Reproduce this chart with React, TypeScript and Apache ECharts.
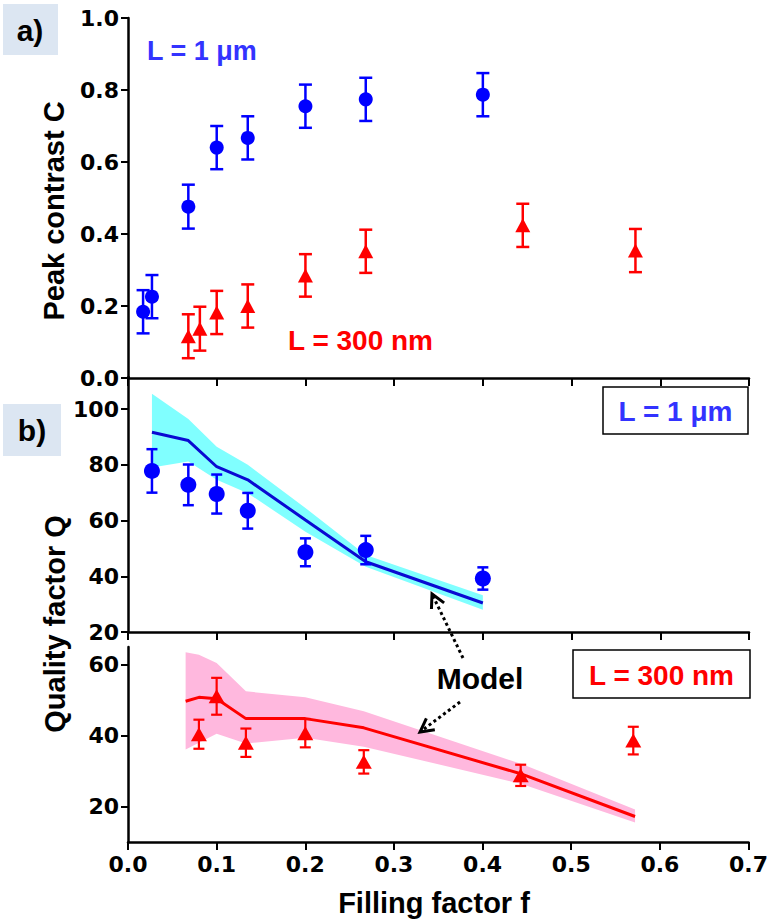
import React, { useEffect, useRef } from 'react';
import * as echarts from 'echarts';

// ---------- Panel a: peak contrast C ----------
const fBlueA = [0.017, 0.027, 0.068, 0.10, 0.135, 0.20, 0.268, 0.40];
const cBlueA = [0.184, 0.226, 0.476, 0.640, 0.667, 0.755, 0.774, 0.787];
const cBlueAErr = [0.06, 0.06, 0.061, 0.06, 0.06, 0.06, 0.06, 0.06];

const fRedA = [0.068, 0.081, 0.10, 0.135, 0.20, 0.268, 0.445, 0.572];
const cRedA = [0.116, 0.137, 0.182, 0.20, 0.285, 0.352, 0.424, 0.354];
const cRedAErr = [0.061, 0.061, 0.06, 0.06, 0.059, 0.06, 0.06, 0.06];

// ---------- Panel b (upper): Q, L = 1 um ----------
const fBlueQ = [0.027, 0.068, 0.10, 0.135, 0.20, 0.268, 0.40];
const qBlue = [77.8, 72.8, 69.5, 63.5, 48.6, 49.4, 39.2];
const qBlueErr = [7.8, 7.3, 7.0, 6.4, 5.0, 5.1, 4.0];

const fModelBlue = [0.027, 0.068, 0.10, 0.135, 0.20, 0.268, 0.40];
const qModelBlue = [91.7, 88.7, 79.3, 74.6, 60.2, 45.2, 30.4];
const qModelBlueHi = [105.5, 96.4, 86.5, 80.0, 64.5, 47.6, 33.2];
const qModelBlueLo = [79.0, 81.2, 74.6, 69.8, 56.0, 43.4, 28.0];

// ---------- Panel b (lower): Q, L = 300 nm ----------
const fRedQ = [0.08, 0.10, 0.133, 0.20, 0.266, 0.443, 0.570];
const qRed = [40.4, 51.1, 38.0, 40.7, 32.6, 28.8, 38.6];
const qRedErr = [4.1, 5.2, 4.0, 4.0, 3.3, 3.0, 3.9];

const fModelRed = [0.065, 0.08, 0.10, 0.133, 0.20, 0.266, 0.445, 0.572];
const qModelRed = [49.7, 50.8, 50.4, 44.8, 44.8, 42.2, 29.1, 17.2];
const qModelRedHi = [63.5, 62.8, 60.5, 52.5, 50.8, 46.9, 31.9, 19.2];
const qModelRedLo = [36.1, 38.0, 40.5, 37.8, 39.4, 36.9, 26.3, 15.5];

// ---------- Tick labels ----------
const cTicks = [0, 0.2, 0.4, 0.6, 0.8, 1.0];
const qUpperTicks = [20, 40, 60, 80, 100];
const qLowerTicks = [20, 40, 60];

const BLUE = '#0000FF';
const BLUE_TEXT = '#3333FF';
const BLUE_LINE = '#0A0AD2';
const RED = '#FF0000';
const CYAN = '#80FFFF';
const PINK = '#FFB8DE';
const TICK_FONT = 'DejaVu Sans';
const TITLE_FONT = '"Liberation Sans", Arial, sans-serif';

function errorBars(idx: number, f: number[], v: number[], e: number[], color: string, capW: number, lw: number) {
  return {
    type: 'custom',
    xAxisIndex: idx,
    yAxisIndex: idx,
    silent: true,
    z: 3,
    encode: { x: 0, y: [1, 2] },
    data: f.map((x, i) => [x, v[i] - e[i], v[i] + e[i]]),
    renderItem: (params: any, api: any) => {
      const x = api.value(0);
      const p1 = api.coord([x, api.value(1)]);
      const p2 = api.coord([x, api.value(2)]);
      const h = capW / 2;
      const st = { stroke: color, lineWidth: lw };
      return {
        type: 'group',
        children: [
          { type: 'line', shape: { x1: p1[0], y1: p1[1], x2: p2[0], y2: p2[1] }, style: st },
          { type: 'line', shape: { x1: p1[0] - h, y1: p1[1], x2: p1[0] + h, y2: p1[1] }, style: st },
          { type: 'line', shape: { x1: p2[0] - h, y1: p2[1], x2: p2[0] + h, y2: p2[1] }, style: st },
        ],
      };
    },
  };
}

function band(idx: number, f: number[], lo: number[], hi: number[], color: string) {
  return {
    type: 'custom',
    xAxisIndex: idx,
    yAxisIndex: idx,
    silent: true,
    z: 1,
    encode: { x: 0, y: [1, 2] },
    data: f.map((x, i) => [x, lo[i], hi[i]]),
    renderItem: (params: any, api: any) => {
      if (params.dataIndex !== 0) return { type: 'group', children: [] };
      const pts: number[][] = [];
      for (let i = 0; i < f.length; i++) pts.push(api.coord([f[i], hi[i]]));
      for (let i = f.length - 1; i >= 0; i--) pts.push(api.coord([f[i], lo[i]]));
      return { type: 'polygon', shape: { points: pts }, style: { fill: color } };
    },
  };
}

function line(idx: number, f: number[], v: number[], color: string) {
  return {
    type: 'line',
    xAxisIndex: idx,
    yAxisIndex: idx,
    silent: true,
    z: 2,
    symbol: 'none',
    lineStyle: { color, width: 3 },
    data: f.map((x, i) => [x, v[i]]),
  };
}

function scatter(idx: number, f: number[], v: number[], color: string, symbol: string, size: any) {
  return {
    type: 'scatter',
    xAxisIndex: idx,
    yAxisIndex: idx,
    silent: true,
    z: 4,
    symbol,
    symbolSize: size,
    itemStyle: { color, opacity: 1 },
    data: f.map((x, i) => [x, v[i]]),
  };
}

function arrow(x1: number, y1: number, x2: number, y2: number) {
  const dx = x1 - x2;
  const dy = y1 - y2;
  const len = Math.sqrt(dx * dx + dy * dy);
  const ux = dx / len;
  const uy = dy / len;
  const a = (28 * Math.PI) / 180;
  const L = 15;
  const rot = (ang: number) => [x2 + L * (ux * Math.cos(ang) - uy * Math.sin(ang)), y2 + L * (ux * Math.sin(ang) + uy * Math.cos(ang))];
  const pA = rot(a);
  const pB = rot(-a);
  return [
    { type: 'line', shape: { x1, y1, x2: x2 + ux * 2, y2: y2 + uy * 2 }, style: { stroke: '#000', lineWidth: 3, lineDash: [3, 3] } },
    { type: 'polyline', shape: { points: [pA, [x2, y2], pB] }, style: { stroke: '#000', lineWidth: 3, fill: null } },
  ];
}

function xAxis(idx: number, showLabel: boolean) {
  return {
    type: 'value',
    gridIndex: idx,
    min: 0,
    max: 0.7,
    interval: 0.1,
    axisLine: { show: true, onZero: false, lineStyle: { color: '#000', width: 2.5 } },
    axisTick: { show: true, inside: false, length: 8, lineStyle: { color: '#000', width: 2 } },
    splitLine: { show: false },
    axisLabel: {
      show: showLabel,
      margin: 11,
      color: '#000',
      fontFamily: TICK_FONT,
      fontWeight: 'bold',
      fontSize: 22,
      formatter: (v: number) => v.toFixed(1),
    },
  };
}

function yAxis(idx: number, min: number, max: number, ticks: number[], fmt: (v: number) => string) {
  return {
    type: 'value',
    gridIndex: idx,
    min,
    max,
    axisLine: { show: true, onZero: false, lineStyle: { color: '#000', width: 2.5 } },
    axisTick: { show: true, inside: false, length: 7, lineStyle: { color: '#000', width: 2 }, customValues: ticks },
    splitLine: { show: false },
    axisLabel: {
      show: true,
      margin: 9,
      color: '#000',
      fontFamily: TICK_FONT,
      fontWeight: 'bold',
      fontSize: 22,
      customValues: ticks,
      formatter: fmt,
    },
  };
}

function textEl(text: string, x: number, y: number, font: string, fill: string, align = 'center', rotation = 0) {
  return {
    type: 'text',
    x,
    y,
    rotation,
    z: 10,
    style: { text, font, fill, textAlign: align, textVerticalAlign: 'middle' },
  };
}

export default function App() {
  const ref = useRef<HTMLDivElement>(null);
  useEffect(() => {
    if (!ref.current) return;
    const chart = echarts.init(ref.current, null, { renderer: 'svg' });
    const option: any = {
      animation: false,
      backgroundColor: '#fff',
      grid: [
        { left: 128, top: 18, width: 621, height: 360 },
        { left: 128, top: 377, width: 621, height: 255 },
        { left: 128, top: 647, width: 621, height: 195 },
      ],
      xAxis: [xAxis(0, false), xAxis(1, false), xAxis(2, true)],
      yAxis: [
        yAxis(0, 0, 1.0, cTicks, (v: number) => v.toFixed(1)),
        yAxis(1, 20, 111.5, qUpperTicks, (v: number) => String(Math.round(v))),
        yAxis(2, 10, 65, qLowerTicks, (v: number) => String(Math.round(v))),
      ],
      series: [
        errorBars(0, fBlueA, cBlueA, cBlueAErr, BLUE, 13, 2.5),
        scatter(0, fBlueA, cBlueA, BLUE, 'circle', 14),
        errorBars(0, fRedA, cRedA, cRedAErr, RED, 13, 2.5),
        scatter(0, fRedA, cRedA, RED, 'triangle', [15, 14]),

        band(1, fModelBlue, qModelBlueLo, qModelBlueHi, CYAN),
        line(1, fModelBlue, qModelBlue, BLUE_LINE),
        errorBars(1, fBlueQ, qBlue, qBlueErr, BLUE, 11, 2.5),
        scatter(1, fBlueQ, qBlue, BLUE, 'circle', 16),

        band(2, fModelRed, qModelRedLo, qModelRedHi, PINK),
        line(2, fModelRed, qModelRed, RED),
        errorBars(2, fRedQ, qRed, qRedErr, RED, 11, 2.2),
        scatter(2, fRedQ, qRed, RED, 'triangle', [16, 14]),
      ],
      graphic: [
        { type: 'rect', shape: { x: 3, y: 4, width: 55, height: 51 }, style: { fill: '#DCE6F2' }, z: 9 },
        textEl('a)', 30, 30, `bold 30px ${TITLE_FONT}`, '#000'),
        { type: 'rect', shape: { x: 3, y: 404, width: 58, height: 52 }, style: { fill: '#DCE6F2' }, z: 9 },
        textEl('b)', 32, 430, `bold 30px ${TITLE_FONT}`, '#000'),

        textEl('L = 1 μm', 147, 51, `bold 27px ${TITLE_FONT}`, BLUE_TEXT, 'left'),
        textEl('L = 300 nm', 288, 340, `bold 28px ${TITLE_FONT}`, RED, 'left'),

        { type: 'rect', shape: { x: 603, y: 387, width: 145, height: 47 }, style: { fill: '#fff', stroke: '#000', lineWidth: 1.5 }, z: 9 },
        textEl('L = 1 μm', 675.5, 411, `bold 28px ${TITLE_FONT}`, BLUE_TEXT),
        { type: 'rect', shape: { x: 573, y: 650, width: 177, height: 48 }, style: { fill: '#fff', stroke: '#000', lineWidth: 1.5 }, z: 9 },
        textEl('L = 300 nm', 661.5, 675, `bold 28px ${TITLE_FONT}`, RED),

        textEl('Model', 480, 678, `bold 30px ${TITLE_FONT}`, '#000'),
        ...arrow(463, 658, 432, 594).map((e: any) => ({ ...e, z: 10 })),
        ...arrow(460, 702, 420, 732).map((e: any) => ({ ...e, z: 10 })),

        textEl('Peak contrast C', 54, 211, `bold 29px ${TITLE_FONT}`, '#000', 'center', Math.PI / 2),
        textEl('Quality factor Q', 55, 624, `bold 29px ${TITLE_FONT}`, '#000', 'center', Math.PI / 2),
        textEl('Filling factor f', 434, 903, `bold 29px ${TITLE_FONT}`, '#000'),
      ],
    };
    chart.setOption(option);
    return () => chart.dispose();
  }, []);
  return <div ref={ref} style={{ position: 'fixed', left: 0, top: 0, width: 771, height: 924 }} />;
}
